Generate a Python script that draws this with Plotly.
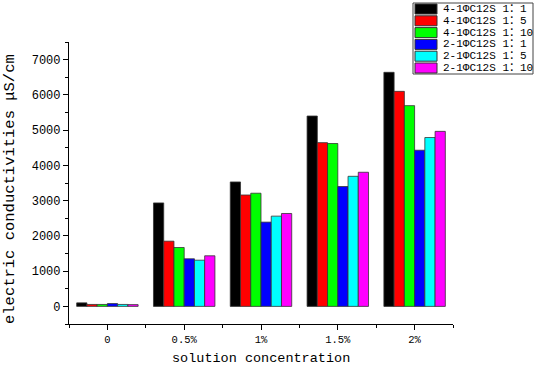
import plotly.graph_objects as go

# ---- data ----
categories = ["0", "0.5%", "1%", "1.5%", "2%"]
series_names = ["4-1ΦC12S 1：1", "4-1ΦC12S 1：5", "4-1ΦC12S 1：10",
                "2-1ΦC12S 1：1", "2-1ΦC12S 1：5", "2-1ΦC12S 1：10"]
s_4_1_1 = [100, 2935, 3530, 5400, 6640]
s_4_1_5 = [55, 1850, 3160, 4645, 6100]
s_4_1_10 = [55, 1670, 3210, 4620, 5695]
s_2_1_1 = [80, 1350, 2390, 3400, 4430]
s_2_1_5 = [55, 1310, 2560, 3690, 4790]
s_2_1_10 = [50, 1435, 2635, 3805, 4965]
series_values = [s_4_1_1, s_4_1_5, s_4_1_10, s_2_1_1, s_2_1_5, s_2_1_10]
colors = ["#000000", "#FF0000", "#00FF00", "#0000FF", "#00FFFF", "#FF00FF"]
y_ticks = [0, 1000, 2000, 3000, 4000, 5000, 6000, 7000]

# ---- layout geometry ----
W, H = 536, 366
PX0, PX1, PY0, PY1 = 69, 453, 42, 324          # plot area in window pixels
L, T = PX0, PY0
R, B = W - PX1, H - PY1
PW, PH = PX1 - PX0, PY1 - PY0
FONT = "Liberation Mono, Noto Sans CJK SC, monospace"


def px_x(px):
    return (px - PX0) / PW


def px_y(py):
    return (PY1 - py) / PH


fig = go.Figure()
xs = list(range(len(categories)))
for name, vals, col in zip(series_names, series_values, colors):
    fig.add_trace(go.Bar(x=xs, y=vals, name=name,
                         marker=dict(color=col, line=dict(color="#333333", width=0.8)),
                         showlegend=False))

fig.update_layout(
    width=W, height=H,
    margin=dict(l=L, r=R, t=T, b=B, autoexpand=False),
    paper_bgcolor="white", plot_bgcolor="white",
    barmode="group", bargap=0.2, bargroupgap=0,
    font=dict(family=FONT, color="black", size=12),
)
fig.update_xaxes(
    range=[-0.5, 4.5], tickmode="array", tickvals=xs, ticktext=categories,
    showline=True, linecolor="black", linewidth=1.2, mirror=False,
    ticks="outside", ticklen=5, tickwidth=1.2, tickcolor="black",
    minor=dict(tickmode="array", tickvals=[-0.5, 0.5, 1.5, 2.5, 3.5, 4.5],
               ticks="outside", ticklen=3, tickwidth=1.2, tickcolor="black"),
    showgrid=False, zeroline=False, tickfont=dict(size=10.5, family=FONT),
)
fig.update_yaxes(
    range=[-500, 7500], tickmode="array", tickvals=y_ticks,
    showline=True, linecolor="black", linewidth=1.2,
    ticks="outside", ticklen=5, tickwidth=1.2, tickcolor="black",
    minor=dict(dtick=500, tick0=0, ticks="outside", ticklen=3, tickwidth=1.2, tickcolor="black"),
    showgrid=False, zeroline=False, tickfont=dict(size=12, family=FONT),
)

# axis titles
fig.add_annotation(text="solution concentration", xref="paper", yref="paper",
                   x=px_x(261), y=px_y(358), xanchor="center", yanchor="middle",
                   showarrow=False, font=dict(size=13.5, family=FONT))
fig.add_annotation(text="electric conductivities μS/cm", xref="paper", yref="paper",
                   x=px_x(10), y=px_y(189), xanchor="center", yanchor="middle",
                   textangle=-90, showarrow=False, font=dict(size=15.5, family=FONT))

# manual legend
fig.add_shape(type="rect", xref="paper", yref="paper",
              x0=px_x(413), x1=px_x(533), y0=px_y(74), y1=px_y(3),
              line=dict(color="#444444", width=1), fillcolor="white", layer="above")
for i, (name, col) in enumerate(zip(series_names, colors)):
    cy = 9 + 11.8 * i
    fig.add_shape(type="rect", xref="paper", yref="paper",
                  x0=px_x(415), x1=px_x(437), y0=px_y(cy + 5), y1=px_y(cy - 5),
                  line=dict(color="#333333", width=1), fillcolor=col, layer="above")
    fig.add_annotation(text=name, xref="paper", yref="paper",
                       x=px_x(441), y=px_y(cy), xanchor="left", yanchor="middle",
                       showarrow=False, font=dict(size=11, family=FONT))

fig.write_html("out.html", config={"displayModeBar": False},
               post_script="document.body.style.margin='0';")
